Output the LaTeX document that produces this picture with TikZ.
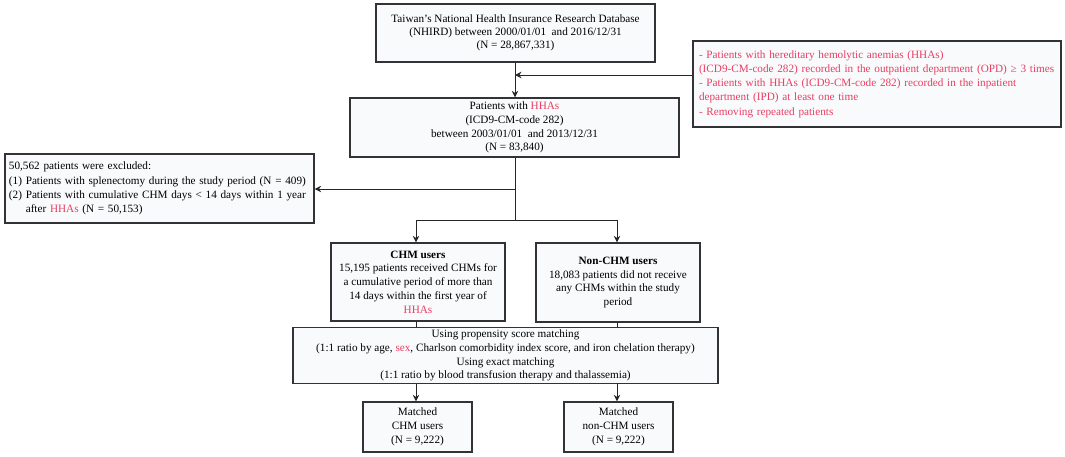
\documentclass[tikz,border=0pt]{standalone}
\usepackage{fontspec}
\setmainfont{Liberation Serif}
\usetikzlibrary{arrows.meta,calc}
\definecolor{hred}{RGB}{234,62,98}
\definecolor{boxfill}{RGB}{248,250,252}
\definecolor{edge}{RGB}{50,50,55}
\newcommand{\hr}[1]{\textcolor{hred}{#1}}
\begin{document}
\begin{tikzpicture}[x=1pt,y=-1pt,
  box/.style={draw=edge,line width=1.3pt,fill=boxfill,inner sep=2pt,align=center,
    font=\fontsize{11.2}{13.8}\selectfont},
  conn/.style={draw=black!85,line width=1pt},
  arr/.style={conn,-{Stealth[length=6.5pt,width=6.5pt]}}]
\useasboundingbox (0,0) rectangle (1065,456);
\node[box,minimum width=279,minimum height=58,font=\fontsize{11.2}{12.8}\selectfont] (top) at (515.5,33)
  {Taiwan’s National Health Insurance Research Database\\(NHIRD) between 2000/01/01\ \ and 2016/12/31\\(N = 28,867,331)};
\node[box,minimum width=368,minimum height=86,align=left,text=hred,text width=356,
  font=\fontsize{11.2}{14.2}\selectfont] (red) at (877,84)
  {- Patients with hereditary hemolytic anemias (HHAs)\\(ICD9-CM-code 282) recorded in the outpatient department (OPD) ≥ 3 times\\- Patients with HHAs (ICD9-CM-code 282) recorded in the inpatient\\department (IPD) at least one time\\- Removing repeated patients};
\node[box,minimum width=309,minimum height=69,align=left,text width=301,
  font=\fontsize{11.2}{14.2}\selectfont] (excl) at (159.5,188.5)
  {50,562\ patients were excluded:\\(1) Patients with splenectomy during the study period (N = 409)\\(2) Patients with cumulative CHM days < 14 days within 1 year\\\phantom{(2) }after \hr{HHAs} (N = 50,153)};
\node[box,minimum width=329,minimum height=59] (hha) at (514.5,127.5)
  {Patients with \hr{HHAs}\\(ICD9-CM-code 282)\\between 2003/01/01\ \ and 2013/12/31\\(N = 83,840)};
\node[box,minimum width=174,minimum height=78] (chm) at (418,282)
  {\textbf{CHM users}\\15,195\ patients received CHMs for\\a cumulative period of more than\\14 days within the first year of\\\hr{HHAs}};
\node[box,minimum width=164,minimum height=79] (non) at (618,282.5)
  {\textbf{Non-CHM users}\\18,083\ patients did not receive\\any CHMs within the study\\period};
\node[box,minimum width=425,minimum height=55] (match) at (505.5,355.5)
  {Using propensity score matching\\(1:1 ratio by age, \hr{sex}, Charlson comorbidity index score, and iron chelation therapy)\\Using exact matching\\(1:1 ratio by blood transfusion therapy and thalassemia)};
\node[box,minimum width=109,minimum height=50] (mchm) at (417.5,427)
  {Matched\\CHM users\\(N = 9,222)};
\node[box,minimum width=109,minimum height=50] (mnon) at (618.5,427)
  {Matched\\non-CHM users\\(N = 9,222)};
\coordinate (j1) at (515,75);
\coordinate (j2) at (515,189);
\coordinate (j3) at (515,220);
\coordinate (lc) at (416,220);
\coordinate (rc) at (617,220);
\draw[arr] (top.south -| j1) -- (hha.north -| j1);
\draw[arr] (red.west |- j1) -- (j1);
\draw[conn] (hha.south -| j3) -- (j3);
\draw[arr] (j2) -- (excl.east |- j2);
\draw[arr] (j3) -- (lc) -- (chm.north -| lc);
\draw[arr] (j3) -- (rc) -- (non.north -| rc);
\draw[conn] (chm.south -| lc) -- (match.north -| lc);
\draw[conn] (non.south -| rc) -- (match.north -| rc);
\draw[arr] (match.south -| lc) -- (mchm.north -| lc);
\draw[arr] (match.south -| rc) -- (mnon.north -| rc);
\end{tikzpicture}
\end{document}
